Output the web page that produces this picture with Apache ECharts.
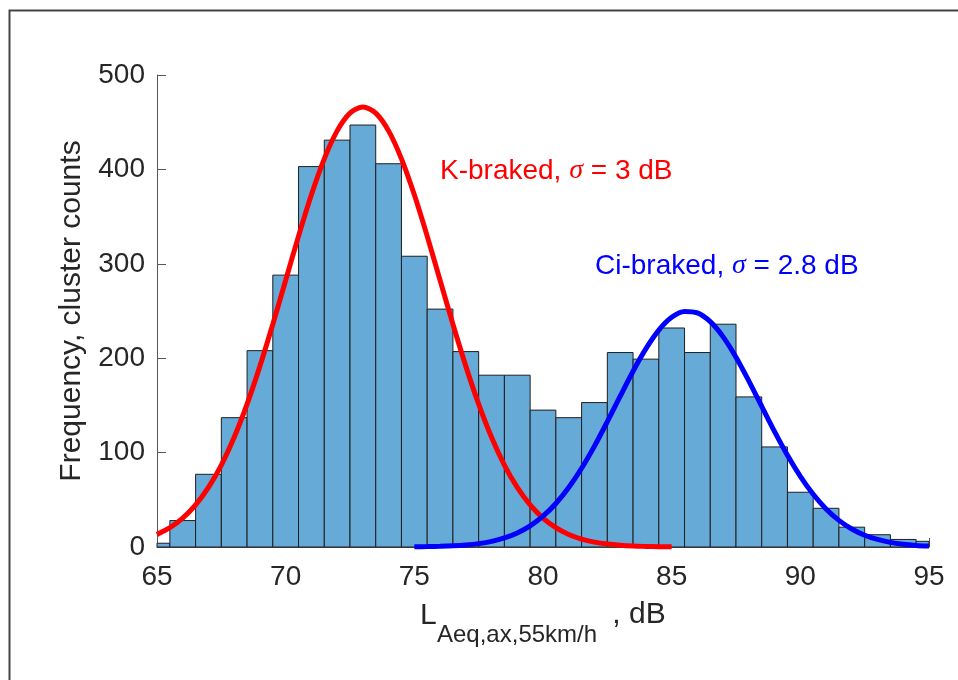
<!DOCTYPE html>
<html>
<head>
<meta charset="utf-8">
<script src="https://cdn.jsdelivr.net/npm/echarts@6/dist/echarts.min.js"></script>
<style>
  html, body { margin: 0; padding: 0; background: #fff; }
  #chart { width: 958px; height: 680px; }
</style>
</head>
<body>
<div id="chart"></div>
<script>
// histogram bins (1 dB wide, centred on whole dB)
const binCenters = [65, 66, 67, 68, 69, 70, 71, 72, 73, 74, 75, 76, 77, 78, 79, 80,
  81, 82, 83, 84, 85, 86, 87, 88, 89, 90, 91, 92, 93, 94, 95];
const counts = [4, 28, 77, 137, 208, 288, 403, 431, 447, 406, 308, 252, 207, 182, 182, 145,
  137, 153, 206, 199, 232, 206, 236, 159, 106, 58, 41, 21, 13, 8, 6];

// fitted curves
const redX = [65, 65.5, 66, 66.5, 67, 67.5, 68, 68.5, 69, 69.5, 70, 70.5, 71, 71.5, 72, 72.5,
  73, 73.5, 74, 74.5, 75, 75.5, 76, 76.5, 77, 77.5, 78, 78.5, 79, 79.5, 80, 80.5,
  81, 81.5, 82, 82.5, 83, 83.5, 84, 84.5, 85];
const redY = [13.3, 20.5, 30.6, 44.6, 63.1, 86.8, 116.2, 151.3, 191.6, 235.9, 282.6, 329.3,
  373.1, 411.2, 440.8, 459.6, 466, 459.6, 440.8, 411.2, 373.1, 329.3, 282.6, 235.9,
  191.6, 151.3, 116.2, 86.8, 63.1, 44.6, 30.6, 20.5, 13.3, 8.4, 5.2, 3.1, 1.8, 1.0, 0.6, 0.3, 0.2];
const blueX = [75, 75.5, 76, 76.5, 77, 77.5, 78, 78.5, 79, 79.5, 80, 80.5, 81, 81.5, 82, 82.5,
  83, 83.5, 84, 84.5, 85, 85.5, 86, 86.5, 87, 87.5, 88, 88.5, 89, 89.5, 90, 90.5,
  91, 91.5, 92, 92.5, 93, 93.5, 94, 94.5, 95];
const blueY = [0.2, 0.4, 0.7, 1.2, 2.1, 3.6, 6.0, 9.6, 14.9, 22.4, 32.6, 46.1, 63.0, 83.4,
  106.9, 132.8, 159.7, 186.2, 210.1, 229.8, 243.3, 249.6, 248.0, 238.7, 222.6, 201.0,
  175.8, 149.0, 122.2, 97.1, 74.8, 55.8, 40.3, 28.2, 19.1, 12.5, 8.0, 4.9, 2.9, 1.7, 1.0];

const font = "'Liberation Sans', Arial, sans-serif";
const sigmaFont = "'Liberation Serif', serif";
const axisColor = "#555";
const textColor = "#262626";

const chart = echarts.init(document.getElementById("chart"));

function renderBin(params, api) {
  const x = api.value(0);
  const y = api.value(1);
  const p0 = api.coord([x - 0.5, 0]);
  const p1 = api.coord([x + 0.5, y]);
  const cs = params.coordSys;
  const shape = echarts.graphic.clipRectByRect(
    { x: p0[0], y: p1[1], width: p1[0] - p0[0], height: p0[1] - p1[1] },
    { x: cs.x, y: cs.y - 1, width: cs.width, height: cs.height + 1 }
  );
  return shape && {
    type: "rect",
    shape: shape,
    style: { fill: "#66aad7", stroke: "#1f1f1f", lineWidth: 1 },
  };
}

function label(text, color) {
  return {
    text: text,
    fill: color,
    font: "28px " + font,
    rich: {
      s: { fontFamily: sigmaFont, fontStyle: "italic", fontSize: 28, fill: color },
    },
  };
}

const option = {
  animation: false,
  grid: { left: 157, right: 29, top: 75, bottom: 133 },
  xAxis: {
    type: "value",
    min: 65,
    max: 95,
    interval: 5,
    axisLine: { lineStyle: { color: axisColor, width: 1 } },
    axisTick: { inside: true, length: 9, lineStyle: { color: axisColor } },
    splitLine: { show: false },
    axisLabel: { fontFamily: font, fontSize: 28, color: textColor, margin: 16 },
  },
  yAxis: {
    type: "value",
    min: 0,
    max: 500,
    interval: 100,
    axisLine: { show: true, lineStyle: { color: axisColor, width: 1 } },
    axisTick: { show: true, inside: true, length: 9, lineStyle: { color: axisColor } },
    splitLine: { show: false },
    axisLabel: { fontFamily: font, fontSize: 28, color: textColor, margin: 12 },
    name: "Frequency, cluster counts",
    nameLocation: "middle",
    nameGap: 70,
    nameTextStyle: { fontFamily: font, fontSize: 30, color: textColor },
  },
  series: [
    {
      type: "custom",
      renderItem: renderBin,
      encode: { x: 0, y: 1 },
      data: binCenters.map((c, i) => [c, counts[i]]),
      z: 2,
    },
    {
      type: "line",
      data: redX.map((x, i) => [x, redY[i]]),
      showSymbol: false,
      smooth: 0.3,
      clip: false,
      lineStyle: { color: "#ff0000", width: 5 },
      z: 3,
    },
    {
      type: "line",
      data: blueX.map((x, i) => [x, blueY[i]]),
      showSymbol: false,
      smooth: 0.3,
      clip: false,
      lineStyle: { color: "#0000ff", width: 5 },
      z: 4,
    },
  ],
  graphic: [
    {
      type: "rect",
      shape: { x: 9.5, y: 10.5, width: 960, height: 680 },
      style: { fill: "none", stroke: "#444", lineWidth: 2 },
      silent: true,
    },
    // x axis title: L with subscript
    {
      type: "text",
      left: 420,
      top: 601,
      style: { text: "L", fill: textColor, font: "30px " + font },
    },
    {
      type: "text",
      left: 437,
      top: 623,
      style: { text: "Aeq,ax,55km/h", fill: textColor, font: "24px " + font },
    },
    {
      type: "text",
      left: 604,
      top: 600,
      style: { text: " , dB", fill: textColor, font: "30px " + font },
    },
    { type: "text", left: 440, top: 157, style: label("K-braked, {s|σ} = 3 dB", "#ff0000") },
    { type: "text", left: 595, top: 252, style: label("Ci-braked, {s|σ} = 2.8 dB", "#0000ff") },
  ],
};

chart.setOption(option);
</script>
</body>
</html>
